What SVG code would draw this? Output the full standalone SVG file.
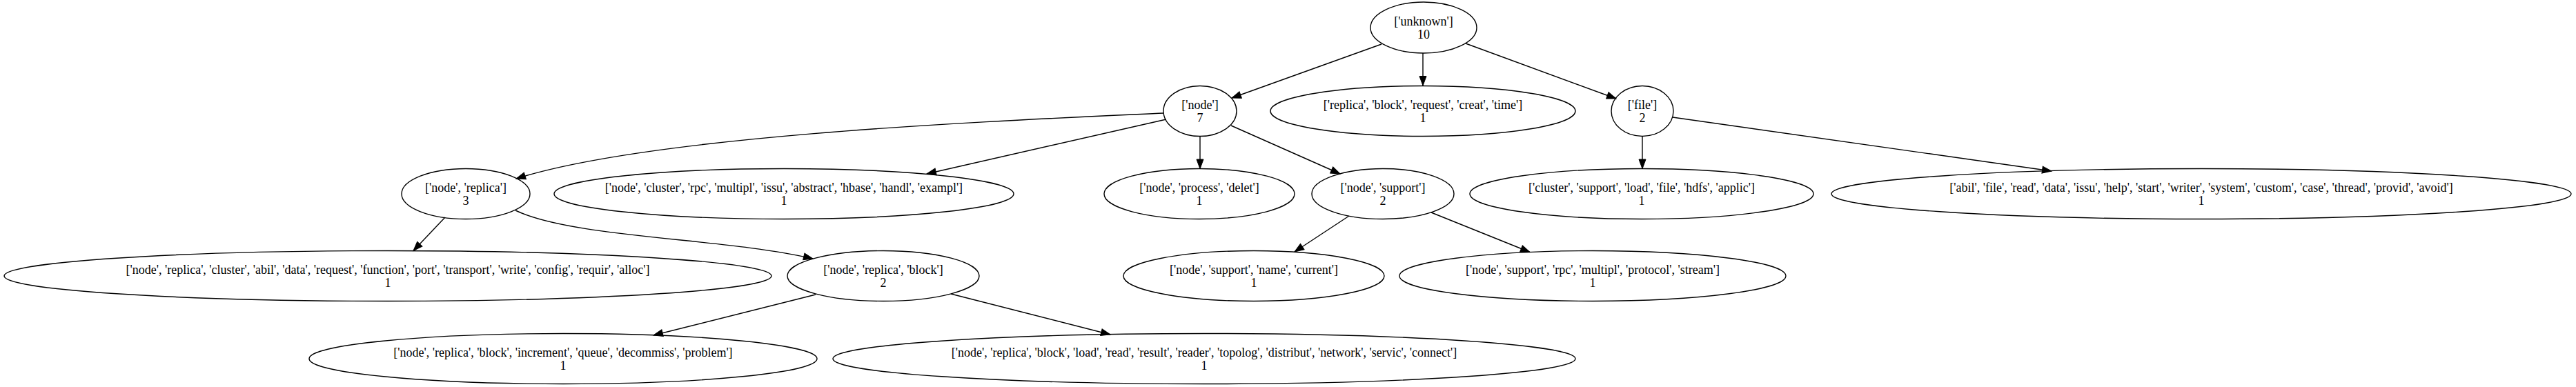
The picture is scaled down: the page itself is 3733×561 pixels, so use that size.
<svg xmlns="http://www.w3.org/2000/svg" width="3733" height="561" viewBox="0 0 3733 561">
<style>
.n ellipse{fill:none;stroke:#000;stroke-width:1.4}
.n text{font-family:"Liberation Serif","Times New Roman",serif;font-size:18px;fill:#000;text-anchor:middle}
.e path{fill:none;stroke:#000;stroke-width:1.4;marker-end:url(#arr)}
</style>
<defs>
<marker id="arr" markerUnits="userSpaceOnUse" markerWidth="16" markerHeight="12" refX="13.5" refY="5" orient="auto" overflow="visible">
<path d="M0,0 L13.5,5 L0,10 z" fill="#000" stroke="#000" stroke-width="1"/>
</marker>
</defs>
<rect width="3733" height="561" fill="#fff"/>
<g id="edges" class="e">
<path d="M2002,64 L1785,142"/>
<path d="M2062,77 L2062,124"/>
<path d="M2124,63 L2342,143"/>
<path d="M1686,164 C1450,175 950,195 748,259"/>
<path d="M1690,173 L1343,252"/>
<path d="M1739,198 L1739,244.5"/>
<path d="M1784,182 L1942,252"/>
<path d="M2380,198 L2380,244.5"/>
<path d="M2424,170 L2973,248"/>
<path d="M645,315 L599,363.5"/>
<path d="M747,305 C830,345 1050,345 1178,375"/>
<path d="M1955,313 L1876,365"/>
<path d="M2074,308 L2217,365.5"/>
<path d="M1182,427 L947,486"/>
<path d="M1378,426 L1609,485"/>
</g>
<g id="n0" class="n"><ellipse cx="2063" cy="40" rx="77" ry="37"/><text x="2063" y="37">['unknown']</text><text x="2063" y="56">10</text></g>
<g id="n1" class="n"><ellipse cx="1739" cy="161" rx="53" ry="36.5"/><text x="1739" y="158">['node']</text><text x="1739" y="177">7</text></g>
<g id="n2" class="n"><ellipse cx="2062" cy="161" rx="221" ry="36.5"/><text x="2062" y="158">['replica', 'block', 'request', 'creat', 'time']</text><text x="2062" y="177">1</text></g>
<g id="n3" class="n"><ellipse cx="2380" cy="161" rx="45" ry="36.5"/><text x="2380" y="158">['file']</text><text x="2380" y="177">2</text></g>
<g id="n4" class="n"><ellipse cx="675" cy="281" rx="93" ry="36.5"/><text x="675" y="278">['node', 'replica']</text><text x="675" y="297">3</text></g>
<g id="n5" class="n"><ellipse cx="1136" cy="281" rx="333" ry="36.5"/><text x="1136" y="278">['node', 'cluster', 'rpc', 'multipl', 'issu', 'abstract', 'hbase', 'handl', 'exampl']</text><text x="1136" y="297">1</text></g>
<g id="n6" class="n"><ellipse cx="1738" cy="281" rx="138" ry="36.5"/><text x="1738" y="278">['node', 'process', 'delet']</text><text x="1738" y="297">1</text></g>
<g id="n7" class="n"><ellipse cx="2004" cy="281" rx="103" ry="36.5"/><text x="2004" y="278">['node', 'support']</text><text x="2004" y="297">2</text></g>
<g id="n8" class="n"><ellipse cx="2379" cy="281" rx="249" ry="36.5"/><text x="2379" y="278">['cluster', 'support', 'load', 'file', 'hdfs', 'applic']</text><text x="2379" y="297">1</text></g>
<g id="n9" class="n"><ellipse cx="3190" cy="281" rx="536" ry="36.5"/><text x="3190" y="278">['abil', 'file', 'read', 'data', 'issu', 'help', 'start', 'writer', 'system', 'custom', 'case', 'thread', 'provid', 'avoid']</text><text x="3190" y="297">1</text></g>
<g id="n10" class="n"><ellipse cx="562" cy="400" rx="556" ry="36.5"/><text x="562" y="397">['node', 'replica', 'cluster', 'abil', 'data', 'request', 'function', 'port', 'transport', 'write', 'config', 'requir', 'alloc']</text><text x="562" y="416">1</text></g>
<g id="n11" class="n"><ellipse cx="1280" cy="400" rx="139" ry="36.5"/><text x="1280" y="397">['node', 'replica', 'block']</text><text x="1280" y="416">2</text></g>
<g id="n12" class="n"><ellipse cx="1817" cy="400" rx="189" ry="36.5"/><text x="1817" y="397">['node', 'support', 'name', 'current']</text><text x="1817" y="416">1</text></g>
<g id="n13" class="n"><ellipse cx="2308" cy="400" rx="280" ry="36.5"/><text x="2308" y="397">['node', 'support', 'rpc', 'multipl', 'protocol', 'stream']</text><text x="2308" y="416">1</text></g>
<g id="n14" class="n"><ellipse cx="816" cy="520" rx="368" ry="36.5"/><text x="816" y="517">['node', 'replica', 'block', 'increment', 'queue', 'decommiss', 'problem']</text><text x="816" y="536">1</text></g>
<g id="n15" class="n"><ellipse cx="1745" cy="520" rx="538" ry="36.5"/><text x="1745" y="517">['node', 'replica', 'block', 'load', 'read', 'result', 'reader', 'topolog', 'distribut', 'network', 'servic', 'connect']</text><text x="1745" y="536">1</text></g>
</svg>
